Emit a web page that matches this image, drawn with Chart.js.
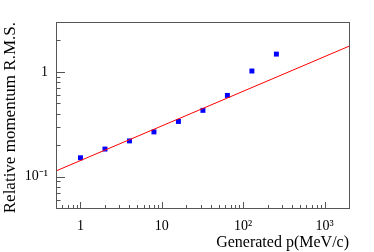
<!DOCTYPE html>
<html>
<head>
<meta charset="utf-8">
<script src="https://cdn.jsdelivr.net/npm/chart.js@4.4.1/dist/chart.umd.min.js"></script>
<style>
html, body { margin: 0; padding: 0; background: #fff; }
</style>
</head>
<body>
<canvas id="chart" width="374" height="252"></canvas>
<script>
// measured points (generated momentum vs relative rms)
const momenta = [1, 2, 4, 8, 16, 32, 64, 128, 256]
const rms = [0.151, 0.183, 0.219, 0.267, 0.336, 0.429, 0.596, 1.02, 1.48]
// fitted power law, ends of the drawn line
const fitP = [0.5, 2000]
const fitRms = [0.113, 1.76]
// tick labels
const xTicks = [1, 10, 100, 1000]
const xTickLabels = ['1', '10', '10²', '10³']
const yTicks = [0.1, 1]
const yTickLabels = ['10⁻¹', '1']

const serif = 'Liberation Serif'

// ROOT style ticks: drawn inward from the left and bottom axes, plus the frame
const frameTicks = {
    id: 'frameTicks',
    afterDraw(chart) {
        const ctx = chart.ctx
        const a = chart.chartArea
        ctx.save()
        ctx.strokeStyle = '#555'
        ctx.lineWidth = 1
        ctx.strokeRect(Math.round(a.left) + 0.5, Math.round(a.top) + 0.5,
            Math.round(a.right - a.left), Math.round(a.bottom - a.top))
        const logTicks = (scale, cb) => {
            const lo = Math.floor(Math.log10(scale.min)), hi = Math.ceil(Math.log10(scale.max))
            for (let k = lo; k <= hi; k++) {
                for (let n = 1; n <= 9; n++) {
                    const v = n * Math.pow(10, k)
                    if (v < scale.min * 0.999 || v > scale.max * 1.001) continue
                    cb(scale.getPixelForValue(v), n === 1)
                }
            }
        }
        ctx.beginPath()
        const xs = chart.scales.x, ys = chart.scales.y
        logTicks(xs, (px, major) => {
            const x = Math.round(px) + 0.5
            ctx.moveTo(x, a.bottom)
            ctx.lineTo(x, a.bottom - (major ? 6 : 3))
        })
        logTicks(ys, (py, major) => {
            const y = Math.round(py) + 0.5
            ctx.moveTo(a.left, y)
            ctx.lineTo(a.left + (major ? 9 : 4.5), y)
        })
        ctx.stroke()
        ctx.restore()
    }
}

const ctx = document.getElementById('chart').getContext('2d')
const chart = new Chart(ctx, {
    type: 'scatter',
    data: {
        datasets: [{
            data: fitP.map((p, i) => ({ x: p, y: fitRms[i] })),
            showLine: true,
            borderColor: '#ff0000',
            borderWidth: 1,
            pointRadius: 0
        }, {
            data: momenta.map((p, i) => ({ x: p, y: rms[i] })),
            pointStyle: 'rect',
            pointRadius: 3.5,
            pointBorderWidth: 0,
            backgroundColor: '#0000ff',
            borderColor: '#0000ff'
        }]
    },
    options: {
        responsive: false,
        animation: false,
        layout: { padding: { top: 22, right: 25, left: 0, bottom: 0 } },
        plugins: { legend: { display: false }, tooltip: { enabled: false } },
        scales: {
            x: {
                type: 'logarithmic',
                min: 0.5,
                max: 2000,
                grid: { display: false, drawTicks: false },
                border: { display: false },
                afterBuildTicks: s => { s.ticks = xTicks.map(v => ({ value: v })) },
                afterFit: s => { s.height = 44 },
                ticks: {
                    autoSkip: false,
                    maxRotation: 0,
                    padding: 10,
                    color: '#000',
                    font: { family: serif, size: 14 },
                    callback: v => xTickLabels[xTicks.indexOf(v)]
                },
                title: {
                    display: true,
                    text: 'Generated p(MeV/c)',
                    align: 'end',
                    color: '#000',
                    font: { family: serif, size: 16 },
                    padding: { top: 0, bottom: 0 }
                }
            },
            y: {
                type: 'logarithmic',
                min: 0.05,
                max: 3,
                grid: { display: false, drawTicks: false },
                border: { display: false },
                afterBuildTicks: s => { s.ticks = yTicks.map(v => ({ value: v })) },
                afterFit: s => { s.width = 56 },
                ticks: {
                    autoSkip: false,
                    padding: 8,
                    color: '#000',
                    font: { family: serif, size: 14 },
                    callback: v => yTickLabels[yTicks.indexOf(v)]
                },
                title: {
                    display: true,
                    text: 'Relative momentum R.M.S.',
                    align: 'end',
                    color: '#000',
                    font: { family: serif, size: 17 },
                    padding: { top: 0, bottom: 0 }
                }
            }
        }
    },
    plugins: [frameTicks]
})
</script>
</body>
</html>
